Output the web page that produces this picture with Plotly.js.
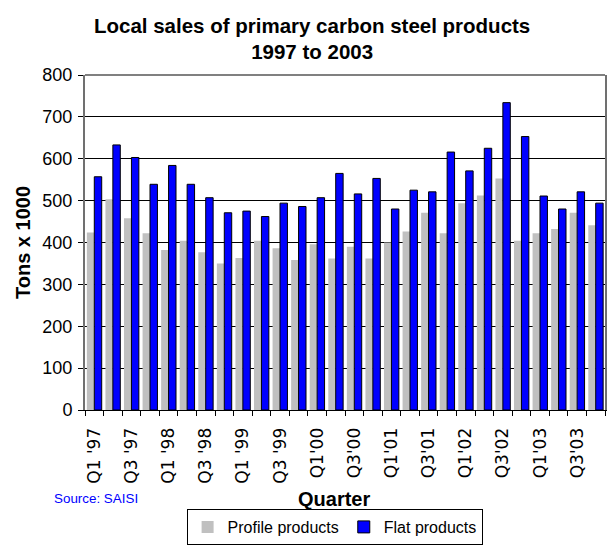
<!DOCTYPE html>
<html>
<head>
<meta charset="utf-8">
<script src="https://cdn.plot.ly/plotly-3.0.1.min.js"></script>
<style>html,body{margin:0;padding:0;background:#fff;}#chart{width:612px;height:545px;}</style>
</head>
<body>
<div id="chart"></div>
<script>
const quarters = [
  "Q1 '97","Q2 '97","Q3 '97","Q4 '97",
  "Q1 '98","Q2 '98","Q3 '98","Q4 '98",
  "Q1 '99","Q2 '99","Q3 '99","Q4 '99",
  "Q1'00","Q2'00","Q3'00","Q4'00",
  "Q1'01","Q2'01","Q3'01","Q4'01",
  "Q1'02","Q2'02","Q3'02","Q4'02",
  "Q1'03","Q2'03","Q3'03","Q4'03"
];
const profileProducts = [
  424, 503, 458, 422,
  382, 404, 377, 350,
  363, 404, 386, 358,
  396, 362, 390, 362,
  400, 426, 471, 422,
  494, 512, 553, 404,
  422, 432, 471, 441
];
const flatProducts = [
  557, 633, 603, 539,
  584, 539, 507, 471,
  475, 462, 494, 486,
  507, 565, 516, 553,
  480, 525, 521, 616,
  571, 625, 734, 653,
  511, 480, 521, 494
];
const shownLabels = quarters.map((q, i) => i % 2 === 0 ? q : "");

const FONT = "Liberation Sans, Arial, sans-serif";
const WIDE = "DejaVu Sans, sans-serif";

const data = [
  {
    type: "bar", name: "Profile products",
    x: quarters, y: profileProducts,
    marker: {color: "#C0C0C0", line: {width: 0}}
  },
  {
    type: "bar", name: "Flat products",
    x: quarters, y: flatProducts,
    marker: {color: "#0000FF", line: {color: "#000000", width: 1}}
  }
];

const layout = {
  width: 612, height: 545,
  margin: {l: 85, r: 7, t: 75, b: 135},
  paper_bgcolor: "#ffffff", plot_bgcolor: "#ffffff",
  font: {family: FONT, color: "#000"},
  title: {
    text: "<b>Local sales of primary carbon steel products<br>1997 to 2003</b>",
    font: {size: 20.5, family: FONT, color: "#000"},
    x: 0.51, xanchor: "center", yref: "container", y: 0.94, yanchor: "middle"
  },
  barmode: "group", bargap: 0.2, bargroupgap: 0,
  showlegend: true,
  legend: {
    orientation: "h", x: 0.48, xanchor: "center",
    yref: "container", y: 0, yanchor: "bottom",
    bordercolor: "#000", borderwidth: 1,
    font: {size: 16, family: FONT},
    itemwidth: 30, tracegroupgap: 0
  },
  xaxis: {
    type: "category",
    tickvals: quarters, ticktext: shownLabels,
    tickangle: -90,
    tickfont: {size: 17, family: WIDE},
    ticks: "outside", ticklen: 5, tickcolor: "#000", tickson: "boundaries",
    ticklabelstandoff: 10,
    showline: true, linecolor: "#000", linewidth: 1,
    mirror: false, showgrid: false, automargin: false
  },
  yaxis: {
    range: [0, 800], dtick: 100,
    tickfont: {size: 18, family: FONT},
    ticks: "outside", ticklen: 5, tickcolor: "#000",
    ticklabelstandoff: 2,
    showline: true, linecolor: "#707070", linewidth: 2, mirror: true,
    showgrid: true, gridcolor: "#000", gridwidth: 1,
    zeroline: false, automargin: false,
    title: {text: "<b>Tons x 1000</b>", font: {size: 20, family: FONT}, standoff: 6}
  },
  shapes: [
    {type: "line", xref: "paper", yref: "paper", x0: 0, x1: 1, y0: 1, y1: 1,
     line: {color: "#808080", width: 2}, layer: "above"}
  ],
  annotations: [
    {text: "<b>Quarter</b>", xref: "paper", yref: "paper", x: 0.479, y: -0.2657,
     xanchor: "center", yanchor: "middle", showarrow: false,
     font: {size: 20, family: FONT, color: "#000"}},
    {text: "Source: SAISI", xref: "paper", yref: "paper", x: -0.063, y: -0.263,
     xanchor: "left", yanchor: "middle", showarrow: false,
     font: {size: 13.4, family: FONT, color: "#0000FF"}}
  ]
};

Plotly.newPlot("chart", data, layout, {displayModeBar: false, staticPlot: true});
</script>
</body>
</html>
